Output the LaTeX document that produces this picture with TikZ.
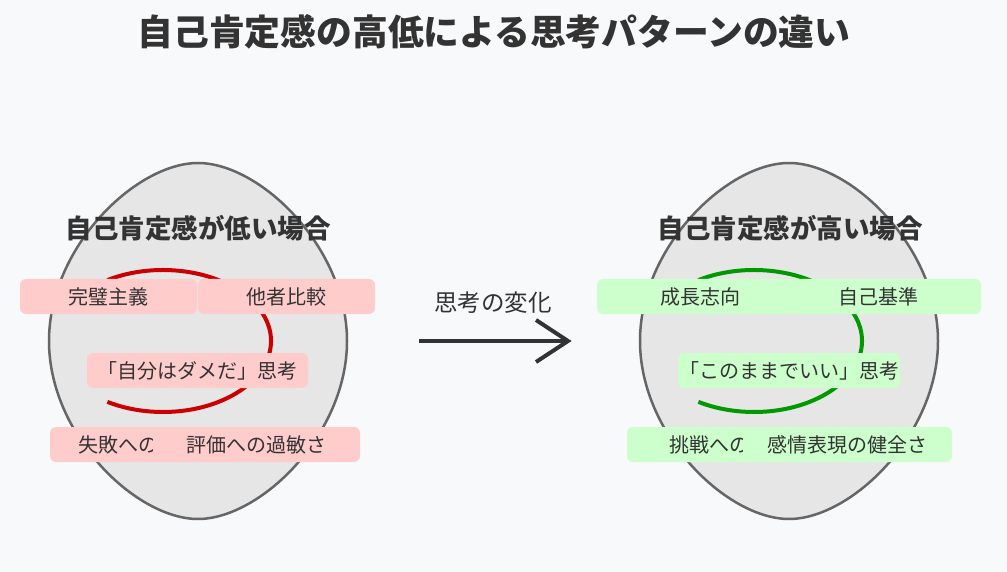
\documentclass[tikz,border=0pt]{standalone}
\usepackage{fontspec}
\setmainfont{Noto Sans CJK JP}
\usetikzlibrary{calc,positioning}
\definecolor{bg}{HTML}{F8F9FA}
\definecolor{ink}{HTML}{333333}
\definecolor{blobfill}{HTML}{E6E6E6}
\definecolor{blobline}{HTML}{666666}
\definecolor{lowred}{HTML}{CC0000}
\definecolor{lowbox}{HTML}{FFCCCC}
\definecolor{highgreen}{HTML}{009900}
\definecolor{highbox}{HTML}{CCFFCC}
\tikzset{
  tag/.style={rounded corners=6pt,minimum height=35pt,inner sep=0pt,text=ink,font=\fontsize{20}{24}\selectfont},
  lowtag/.style={tag,fill=lowbox},
  hightag/.style={tag,fill=highbox},
  heading/.style={text=ink,font=\bfseries\fontsize{26.5}{30}\selectfont},
  blob/.style={fill=blobfill,draw=blobline,line width=2.5pt},
  loop/.style={line width=4pt},
}
\begin{document}
\begin{tikzpicture}[x=1pt,y=-1pt]
\fill[bg] (0,0) rectangle (1007,572);
\useasboundingbox (0,0) rectangle (1007,572);
\node[text=ink,font=\bfseries\fontsize{35.8}{40}\selectfont] (title) at (494,32) {自己肯定感の高低による思考パターンの違い};
\foreach \cx in {198,789}
  \draw[blob,shift={(\cx,341)}] (0,-178) .. controls (62,-178) and (149,-94) .. (149,0)
    .. controls (149,94) and (62,178) .. (0,178) .. controls (-62,178) and (-149,94) .. (-149,0)
    .. controls (-149,-94) and (-62,-178) .. (0,-178) -- cycle;
\draw[loop,lowred] (163,341) ++(-121:108 and 71) arc[start angle=-121,end angle=121,x radius=108,y radius=71];
\draw[loop,highgreen] (754,341) ++(-121:108 and 71) arc[start angle=-121,end angle=121,x radius=108,y radius=71];
\node[heading] (lowhead) at (198,228) {自己肯定感が低い場合};
\node[heading] (highhead) at (790,228) {自己肯定感が高い場合};
% low side
\node[lowtag,minimum width=177pt] (perfect) at (108.5,296.5) {完璧主義};
\node[lowtag,minimum width=177pt] (compare) at (286.5,296.5) {他者比較};
\node[lowtag,minimum width=221pt] (selfneg) at (197.5,370.5) {「自分はダメだ」思考};
\node[lowtag,minimum width=136pt] (failure) at (118,444.5) {失敗への};
\node[lowtag,minimum width=207pt] (sensitive) at (256.5,444.5) {評価への過敏さ};
% high side
\node[hightag,minimum width=206pt] (growth) at (700,296.5) {成長志向};
\node[hightag,minimum width=205pt] (ownstd) at (878.5,296.5) {自己基準};
\node[hightag,minimum width=222pt] (selfok) at (789,370.5) {「このままでいい」思考};
\node[hightag,minimum width=164pt] (challenge) at (709,444.5) {挑戦への};
\node[hightag,minimum width=209pt] (emotion) at (847.5,444.5) {感情表現の健全さ};
% shift
\coordinate (shiftfrom) at (419,341);
\coordinate (shiftto) at (568,341);
\draw[ink,line width=4pt] (shiftfrom) -- (shiftto);
\draw[ink,line width=4pt] (shiftto) ++(-32,-21) -- (shiftto) -- ++(-32,21);
\node[text=ink,font=\fontsize{23.5}{28}\selectfont] (shiftlabel) at (493,303) {思考の変化};
\end{tikzpicture}
\end{document}
